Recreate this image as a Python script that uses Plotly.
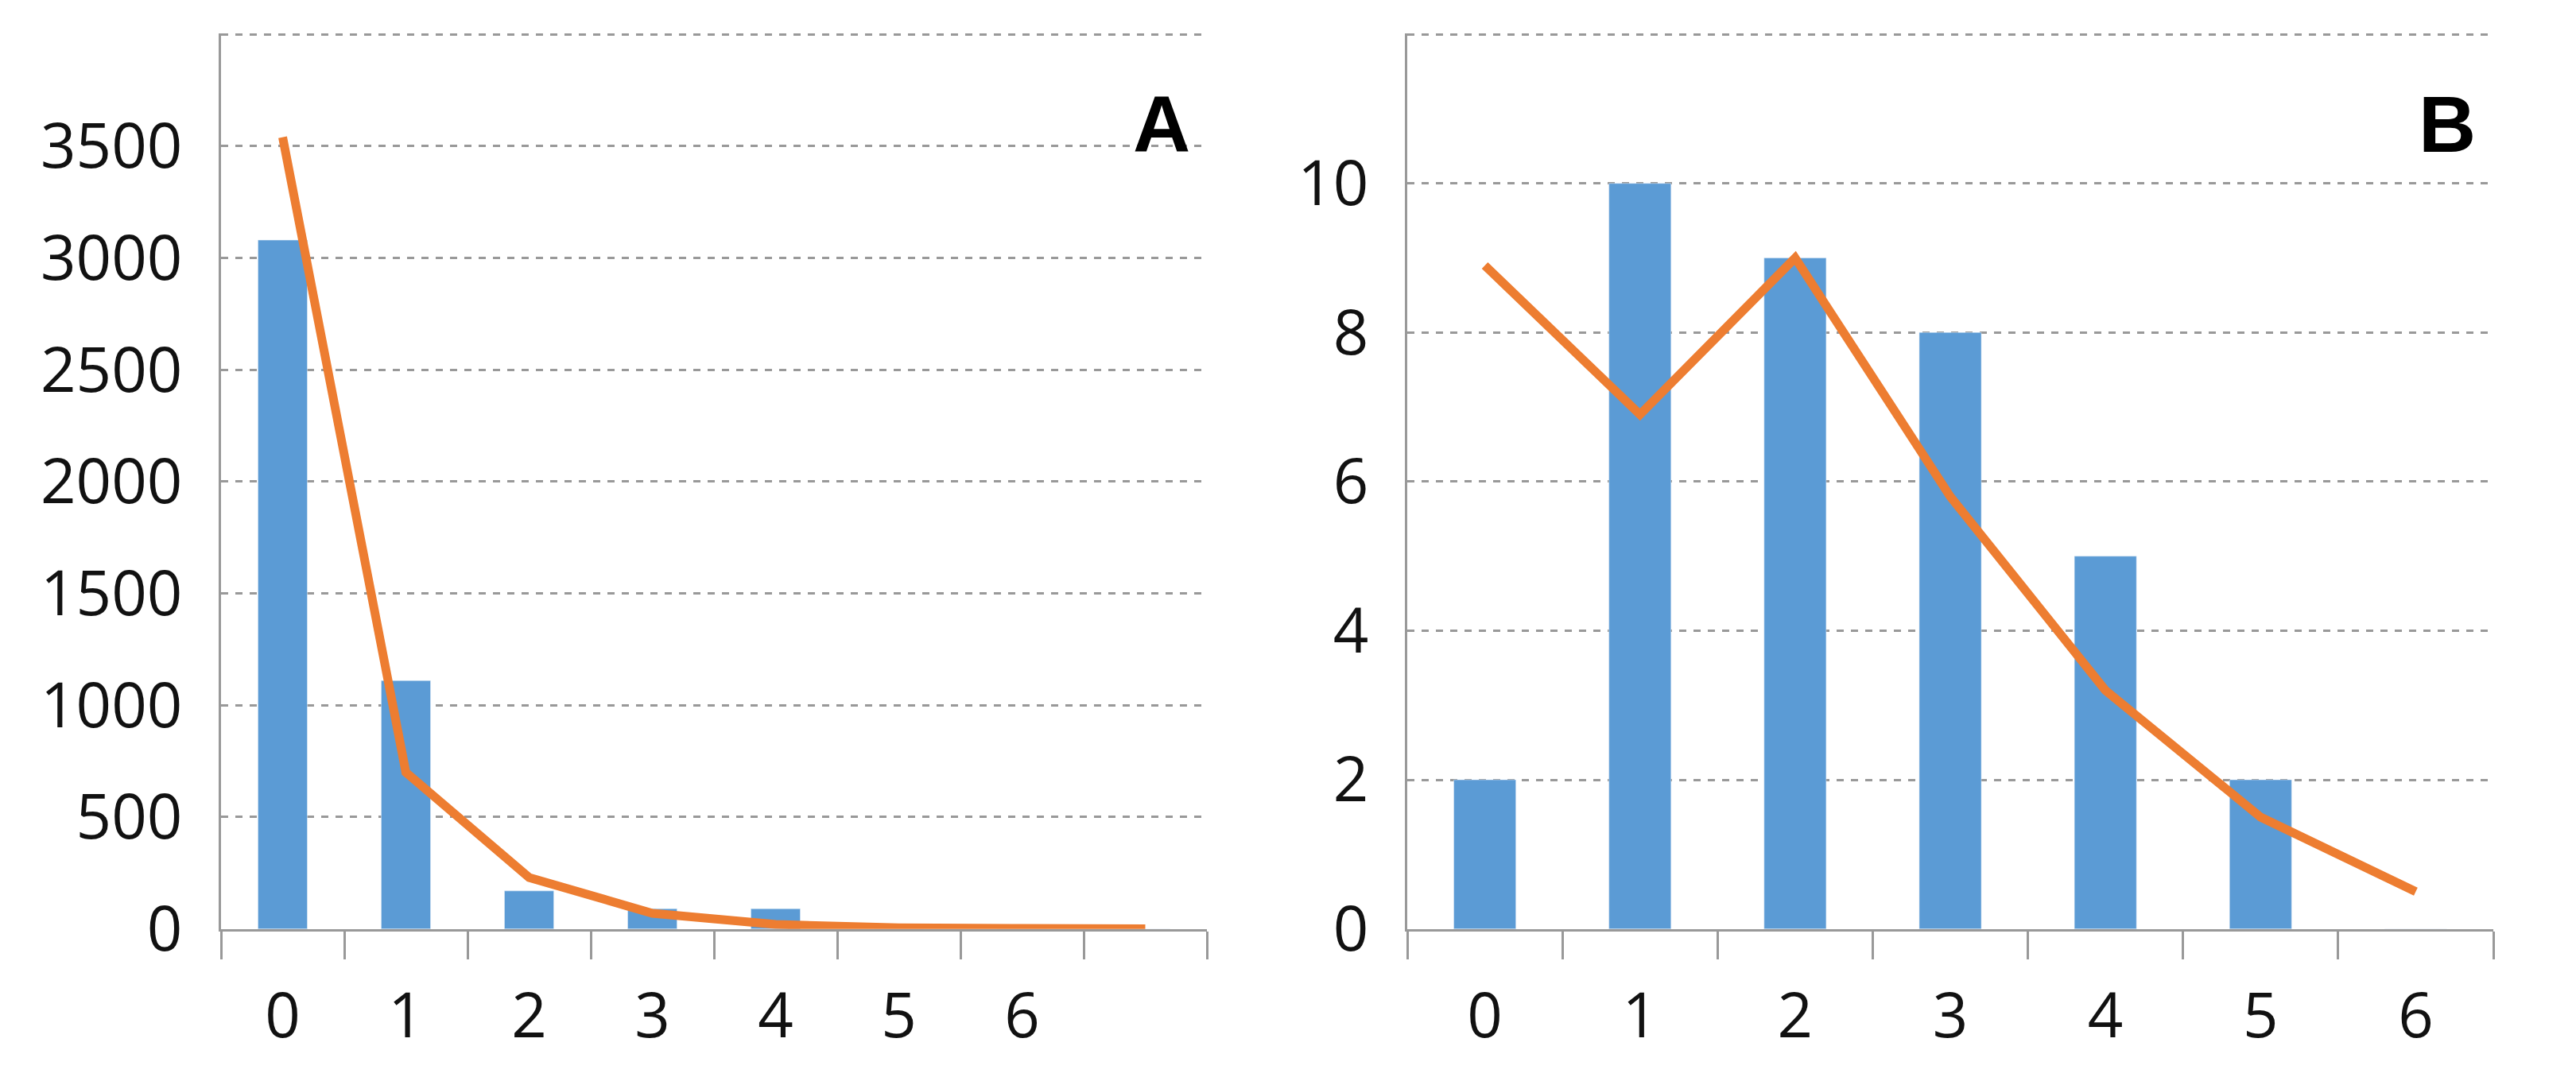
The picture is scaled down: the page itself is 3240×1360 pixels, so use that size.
import plotly.graph_objects as go
from plotly.subplots import make_subplots

cats_a = ["0", "1", "2", "3", "4", "5", "6", " "]
bars_a = [3080, 1110, 170, 90, 90, 0, 0, 0]
line_a = [3540, 700, 230, 70, 20, 5, 2, 1]

cats_b = ["0", "1", "2", "3", "4", "5", "6"]
bars_b = [2, 10, 9, 8, 5, 2, 0]
line_b = [8.9, 6.9, 9.0, 5.8, 3.2, 1.5, 0.5]

BLUE = "#5B9BD5"
ORANGE = "#ED7D31"

fig = make_subplots(rows=1, cols=2, horizontal_spacing=0.08)
fig.add_trace(go.Bar(x=cats_a, y=bars_a, marker_color=BLUE, width=0.4), 1, 1)
fig.add_trace(go.Scatter(x=cats_a, y=line_a, mode="lines", line=dict(color=ORANGE, width=11)), 1, 1)
fig.add_trace(go.Bar(x=cats_b, y=bars_b, marker_color=BLUE, width=0.4), 1, 2)
fig.add_trace(go.Scatter(x=cats_b, y=line_b, mode="lines", line=dict(color=ORANGE, width=11)), 1, 2)

fig.update_layout(
    width=3240, height=1360, showlegend=False,
    paper_bgcolor="white", plot_bgcolor="white",
    margin=dict(l=0, r=0, t=0, b=0),
    font=dict(family="Open Sans, Liberation Sans", size=78, color="#111"),
)
fig.update_layout(
    xaxis=dict(domain=[270/3240, 1510/3240]),
    xaxis2=dict(domain=[1762/3240, 3128/3240]),
)
fig.update_xaxes(type="category", showline=True, linecolor="#999", linewidth=3,
                 ticks="outside", tickson="boundaries", ticklen=35, tickcolor="#999", tickwidth=3,
                 showgrid=False, ticklabelstandoff=40)
fig.update_yaxes(showline=True, linecolor="#999", linewidth=3, ticks="", showgrid=True,
                 gridcolor="#999", griddash="dash", gridwidth=3, zeroline=False, ticklabelstandoff=30)
fig.update_yaxes(range=[0, 4004], dtick=500, domain=[0.114, 0.974], row=1, col=1)
fig.update_yaxes(range=[0, 12.012], dtick=2, domain=[0.114, 0.974], row=1, col=2)

fig.add_annotation(text="<b>A</b>", xref="x domain", yref="y domain", x=0.985, y=0.95,
                   showarrow=False, xanchor="right", yanchor="top",
                   font=dict(size=100, family="Liberation Sans", color="black"))
fig.add_annotation(text="<b>B</b>", xref="x2 domain", yref="y2 domain", x=0.985, y=0.95,
                   showarrow=False, xanchor="right", yanchor="top",
                   font=dict(size=100, family="Liberation Sans", color="black"))

fig.write_html("out.html")
